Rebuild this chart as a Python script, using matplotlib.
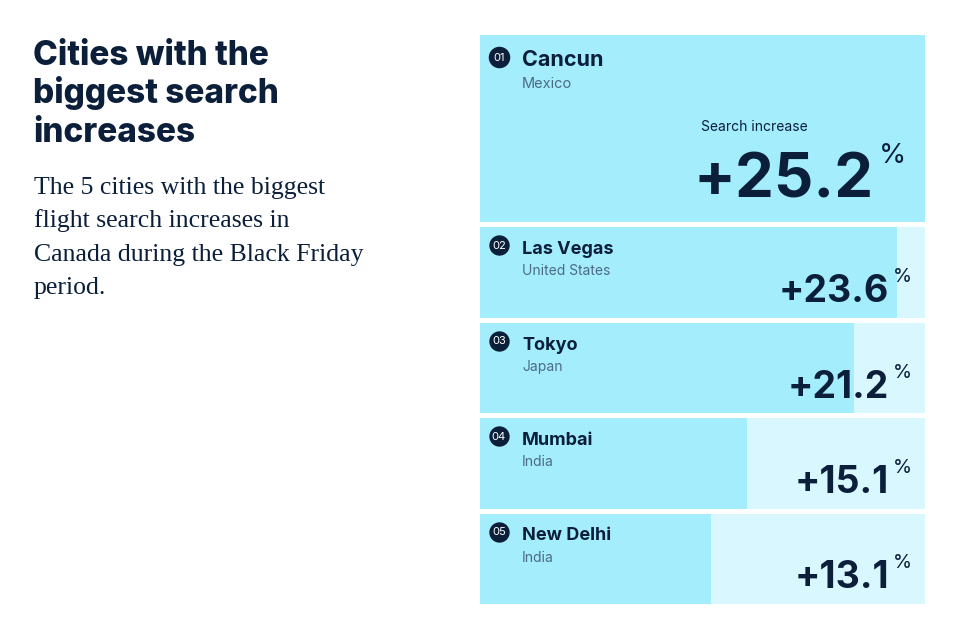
import matplotlib
matplotlib.use('Agg')
from matplotlib import pyplot as plt
import matplotlib.transforms as mtransforms

cities = ['Cancun', 'Las Vegas', 'Tokyo', 'Mumbai', 'New Delhi']
countries = ['Mexico', 'United States', 'Japan', 'India', 'India']
increase = [25.2, 23.6, 21.2, 15.1, 13.1]
ranks = ['01', '02', '03', '04', '05']

title_lines = ['Cities with the', 'biggest search', 'increases']
subtitle_lines = ['The 5 cities with the biggest', 'flight search increases in',
                  'Canada during the Black Friday', 'period.']

navy = '#0b1f3a'
bar_col = '#a3edfd'
bg_col = '#d9f7fe'
grey = '#4d6b82'
sans = ['Inter', 'DejaVu Sans']

fig = plt.figure(figsize=(9.6, 6.4), dpi=100)
fig.patch.set_facecolor('white')

# left text block (figure pixel coords, y from top)
def fy(y):
    return 1 - y / 640.0

for i, line in enumerate(title_lines):
    fig.text(33 / 960, fy(65 + i * 38.5), line, fontsize=24, fontweight=800,
             color=navy, family=sans, va='baseline', ha='left')
for i, line in enumerate(subtitle_lines):
    fig.text(34 / 960, fy(194 + i * 33.3), line, fontsize=18.5, color=navy,
             family=['Liberation Serif', 'DejaVu Serif'], va='baseline', ha='left')

# panel
ax = fig.add_axes([480 / 960, 1 - 604 / 640, 445 / 960, 569 / 640])
ax.set_xlim(0, max(increase))
ax.set_ylim(569, 0)
ax.axis('off')

row_h = [187, 90.5, 90.5, 90.5, 90.5]
gap = 5
tops = []
t = 0
for h in row_h:
    tops.append(t)
    t += h + gap

ax.barh(tops, [max(increase)] * 5, height=row_h, align='edge', color=bg_col, linewidth=0)
ax.barh(tops, increase, height=row_h, align='edge', color=bar_col, linewidth=0)

tr = mtransforms.blended_transform_factory(ax.transAxes, ax.transData)

def px(x):
    return (x - 480) / 445.0

for i in range(5):
    top = tops[i]
    first = i == 0
    badge_y = top + (22 if first else 18)
    ax.scatter([px(499)], [badge_y], s=(240 if first else 215), color=navy,
               transform=tr, zorder=3, linewidths=0)
    ax.text(px(499), badge_y + 0.5, ranks[i], transform=tr, color='white',
            fontsize=8, family=sans, ha='center', va='center', zorder=4)
    ax.text(px(522), top + (31 if first else 27), cities[i], transform=tr,
            color=navy, fontsize=(15.5 if first else 13), fontweight='bold',
            family=sans, va='baseline', ha='left')
    ax.text(px(522), top + (53 if first else 48), countries[i], transform=tr,
            color=grey, fontsize=(10.5 if first else 10), family=sans,
            va='baseline', ha='left')
    if first:
        ax.text(px(701), top + 96, 'Search increase', transform=tr, color=navy,
                fontsize=10, family=sans, va='baseline', ha='left')
        ax.text(px(874), top + 162, '+%.1f' % increase[i], transform=tr,
                color=navy, fontsize=44.5, fontweight='bold', family=sans,
                va='baseline', ha='right')
        ax.text(px(879), top + 108, '%', transform=tr, color=navy,
                fontsize=20, family=sans, va='top', ha='left')
    else:
        ax.text(px(889), top + 75, '+%.1f' % increase[i], transform=tr,
                color=navy, fontsize=27, fontweight='bold', family=sans,
                va='baseline', ha='right')
        ax.text(px(893), top + 41, '%', transform=tr, color=navy,
                fontsize=14, family=sans, va='top', ha='left')

fig.savefig('out.png', dpi=100, facecolor='white')
